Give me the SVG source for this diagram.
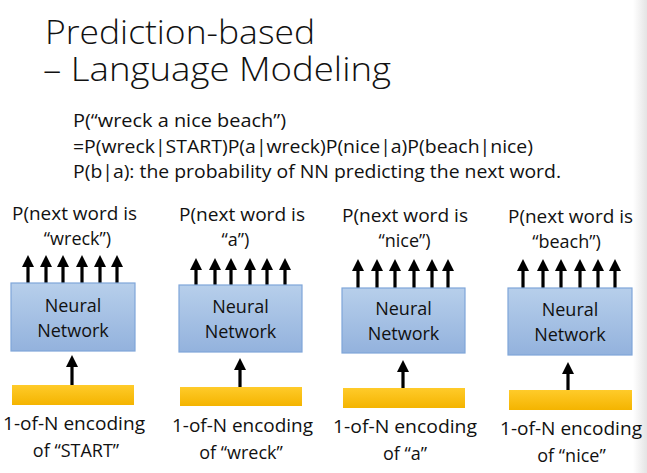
<svg xmlns="http://www.w3.org/2000/svg" width="647" height="473" viewBox="0 0 647 473">
<defs>
<linearGradient id="nn" x1="0" y1="0" x2="0" y2="1">
<stop offset="0" stop-color="#b7cfeb"/>
<stop offset="1" stop-color="#93b2dd"/>
</linearGradient>
<linearGradient id="yl" x1="0" y1="0" x2="0" y2="1">
<stop offset="0" stop-color="#ffcb2a"/>
<stop offset="1" stop-color="#f4b400"/>
</linearGradient>
<linearGradient id="edge" x1="0" y1="0" x2="1" y2="0">
<stop offset="0" stop-color="#ffffff"/>
<stop offset="1" stop-color="#e4e4e4"/>
</linearGradient>
<marker id="ah" viewBox="0 0 12 12" refX="0" refY="6" markerWidth="12" markerHeight="12" markerUnits="userSpaceOnUse" orient="auto">
<path d="M0,0 L12,6 L0,12 Z" fill="#000"/>
</marker>
</defs>
<style>
text{font-family:"Open Sans","Noto Sans",sans-serif;fill:#111}
.title{font-size:33px;font-weight:300}
.sub{font-size:17.5px}
.lbl{font-size:18px}
.c{text-anchor:middle}
.nn{fill:url(#nn);stroke:#7fa6d9;stroke-width:1.2}
.yb{fill:url(#yl)}
.ar{stroke:#000;stroke-width:3.2;fill:none;marker-end:url(#ah)}
</style>
<rect x="0" y="0" width="647" height="473" fill="#fff"/>
<rect x="633" y="0" width="14" height="473" fill="url(#edge)"/>

<g id="title">
<text class="title" x="45" y="44" textLength="270" lengthAdjust="spacingAndGlyphs">Prediction-based</text>
<text class="title" x="43" y="81" textLength="348" lengthAdjust="spacingAndGlyphs">– Language Modeling</text>
</g>
<g id="formula">
<text class="sub" x="73" y="127" textLength="213" lengthAdjust="spacingAndGlyphs">P(“wreck a nice beach”)</text>
<text class="sub" x="73" y="153" textLength="460" lengthAdjust="spacingAndGlyphs">=P(wreck|START)P(a|wreck)P(nice|a)P(beach|nice)</text>
<text class="sub" x="73" y="178" textLength="488" lengthAdjust="spacingAndGlyphs">P(b|a): the probability of NN predicting the next word.</text>
</g>

<g id="connectors">
<path class="ar" d="M28,283 V267"/><path class="ar" d="M46,283 V267"/><path class="ar" d="M63,283 V267"/><path class="ar" d="M82,283 V267"/><path class="ar" d="M100,283 V267"/><path class="ar" d="M117,283 V267"/>
<path class="ar" d="M196,285 V270"/><path class="ar" d="M215,285 V270"/><path class="ar" d="M231,285 V270"/><path class="ar" d="M250,285 V270"/><path class="ar" d="M267,285 V270"/><path class="ar" d="M285,285 V270"/>
<path class="ar" d="M358,288 V271"/><path class="ar" d="M377,288 V271"/><path class="ar" d="M395,288 V271"/><path class="ar" d="M414,288 V271"/><path class="ar" d="M432,288 V271"/><path class="ar" d="M448,288 V271"/>
<path class="ar" d="M523,288 V271"/><path class="ar" d="M543,288 V271"/><path class="ar" d="M561,288 V271"/><path class="ar" d="M580,288 V271"/><path class="ar" d="M598,288 V271"/><path class="ar" d="M615,288 V271"/>
<path class="ar" d="M72,385 V367"/>
<path class="ar" d="M240,387 V370"/>
<path class="ar" d="M403,388 V372"/>
<path class="ar" d="M568,390 V374"/>
</g>

<g id="out1"><text class="lbl" x="12" y="220" textLength="125" lengthAdjust="spacingAndGlyphs">P(next word is</text><text class="lbl c" x="77.5" y="245">“wreck”)</text></g>
<g id="out2"><text class="lbl" x="179" y="221" textLength="126" lengthAdjust="spacingAndGlyphs">P(next word is</text><text class="lbl c" x="235.5" y="246">“a”)</text></g>
<g id="out3"><text class="lbl" x="342" y="222" textLength="126" lengthAdjust="spacingAndGlyphs">P(next word is</text><text class="lbl c" x="404.5" y="247">“nice”)</text></g>
<g id="out4"><text class="lbl" x="508" y="223" textLength="125" lengthAdjust="spacingAndGlyphs">P(next word is</text><text class="lbl c" x="566.5" y="248">“beach”)</text></g>

<g id="nn1"><rect class="nn" x="11" y="283" width="124" height="68"/><text class="lbl c" x="73" y="312">Neural</text><text class="lbl c" x="73" y="337">Network</text></g>
<g id="nn2"><rect class="nn" x="179" y="285" width="123" height="67"/><text class="lbl c" x="240.5" y="313">Neural</text><text class="lbl c" x="240.5" y="338">Network</text></g>
<g id="nn3"><rect class="nn" x="342" y="288" width="123" height="65"/><text class="lbl c" x="403.5" y="315">Neural</text><text class="lbl c" x="403.5" y="340">Network</text></g>
<g id="nn4"><rect class="nn" x="508" y="288" width="124" height="67"/><text class="lbl c" x="570" y="316">Neural</text><text class="lbl c" x="570" y="341">Network</text></g>

<g id="in1"><rect class="yb" x="12" y="385" width="122" height="20"/><text class="lbl" x="3" y="430" textLength="142" lengthAdjust="spacingAndGlyphs">1-of-N encoding</text><text class="lbl c" x="76" y="457">of “START”</text></g>
<g id="in2"><rect class="yb" x="180" y="387" width="122" height="19"/><text class="lbl" x="172" y="432" textLength="141" lengthAdjust="spacingAndGlyphs">1-of-N encoding</text><text class="lbl c" x="241" y="459">of “wreck”</text></g>
<g id="in3"><rect class="yb" x="343" y="388" width="122" height="20"/><text class="lbl" x="333" y="433" textLength="144" lengthAdjust="spacingAndGlyphs">1-of-N encoding</text><text class="lbl c" x="405" y="460">of “a”</text></g>
<g id="in4"><rect class="yb" x="509" y="390" width="123" height="20"/><text class="lbl" x="500" y="435" textLength="142" lengthAdjust="spacingAndGlyphs">1-of-N encoding</text><text class="lbl c" x="571.5" y="462">of “nice”</text></g>
</svg>
